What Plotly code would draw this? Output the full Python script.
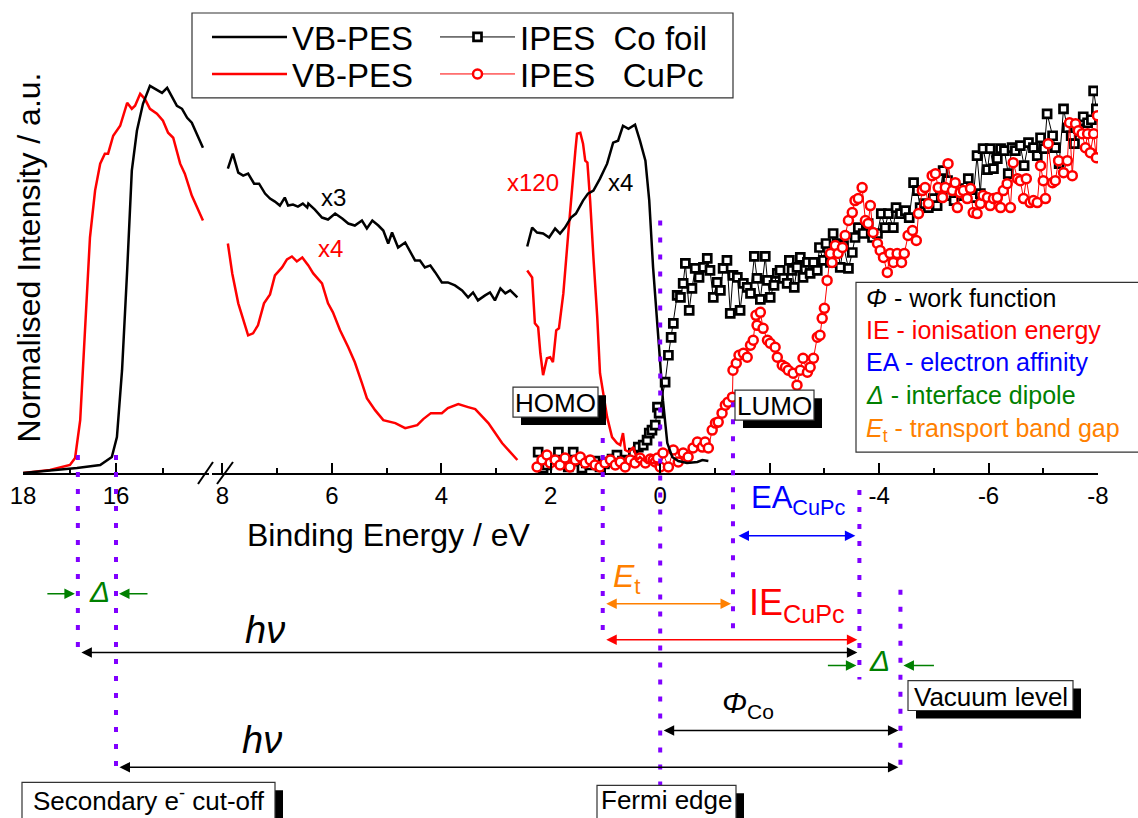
import plotly.graph_objects as go

# ---------------- data (binding energy in eV, intensity in a.u.) ----------------
vb_co_left_E = [18.0, 16.84, 16.34, 16.09, 15.98, 15.87, 15.76, 15.66, 15.55, 15.42, 15.27,
                15.01, 14.90, 14.69, 14.58, 14.47, 14.37, 14.13]
vb_co_left_I = [0.0, 0.05, 0.08, 0.16, 0.36, 1.03, 2.03, 3.03, 3.43, 3.70, 3.88,
                3.81, 3.86, 3.68, 3.65, 3.56, 3.51, 3.26]

vb_cupc_left_E = [18.0, 17.42, 16.99, 16.88, 16.77, 16.67, 16.56, 16.45, 16.34, 16.24, 16.17,
                  16.06, 15.91, 15.76, 15.66, 15.59, 15.48, 15.38, 15.27, 15.12, 14.99, 14.88,
                  14.77, 14.62, 14.52, 14.37, 14.13]
vb_cupc_left_I = [0.0, 0.03, 0.08, 0.15, 0.53, 1.36, 2.36, 2.83, 3.10, 3.20, 3.20,
                  3.38, 3.48, 3.71, 3.65, 3.68, 3.80, 3.75, 3.65, 3.60, 3.53, 3.41,
                  3.36, 3.10, 3.00, 2.78, 2.53]

vb_co_x3_E = [7.90, 7.81, 7.71, 7.62, 7.53, 7.42, 7.33, 7.22, 7.13, 7.04, 6.95, 6.86, 6.80,
              6.71, 6.62, 6.53, 6.45, 6.43, 6.31, 6.18, 6.07, 5.94, 5.81, 5.70, 5.58, 5.45,
              5.36, 5.26, 5.15, 5.06, 4.97, 4.90, 4.79, 4.66, 4.48, 4.39, 4.30, 4.20, 4.11,
              3.99, 3.88, 3.75, 3.62, 3.51, 3.42, 3.33, 3.20, 3.11, 3.02, 2.92, 2.83, 2.74, 2.61]
vb_co_x3_I = [3.05, 3.20, 3.01, 2.98, 3.00, 2.90, 2.90, 2.80, 2.75, 2.72, 2.68, 2.76, 2.68,
              2.69, 2.67, 2.70, 2.66, 2.70, 2.64, 2.56, 2.54, 2.60, 2.55, 2.50, 2.48, 2.53,
              2.45, 2.53, 2.48, 2.43, 2.30, 2.41, 2.26, 2.31, 2.13, 2.13, 2.06, 2.08, 2.01,
              1.91, 1.91, 1.88, 1.83, 1.76, 1.81, 1.73, 1.78, 1.81, 1.73, 1.85, 1.80, 1.83, 1.76]

vb_cupc_x4_E = [7.90, 7.82, 7.71, 7.62, 7.53, 7.44, 7.35, 7.24, 7.13, 7.04, 6.91, 6.82, 6.73,
                6.64, 6.54, 6.43, 6.34, 6.18, 6.07, 5.98, 5.85, 5.70, 5.58, 5.45, 5.36, 5.21,
                5.06, 4.84, 4.66, 4.44, 4.33, 4.19, 3.99, 3.88, 3.69, 3.51, 3.38, 3.14, 2.89, 2.61]
vb_cupc_x4_I = [2.30, 2.00, 1.70, 1.53, 1.38, 1.40, 1.48, 1.70, 1.79, 1.98, 2.06, 2.14, 2.17,
                2.12, 2.16, 2.08, 2.00, 1.90, 1.70, 1.61, 1.43, 1.26, 1.11, 0.90, 0.75, 0.63,
                0.53, 0.50, 0.45, 0.48, 0.54, 0.60, 0.60, 0.65, 0.69, 0.66, 0.64, 0.50, 0.30, 0.13]

vb_co_x4_E = [2.43, 2.34, 2.25, 2.14, 2.03, 1.92, 1.83, 1.74, 1.63, 1.54, 1.41, 1.32, 1.22,
              1.10, 0.97, 0.86, 0.77, 0.68, 0.58, 0.46, 0.37, 0.27, 0.20, 0.13, 0.04, -0.05,
              -0.13, -0.22, -0.33, -0.49, -0.68, -0.77, -0.88]
vb_co_x4_I = [2.27, 2.46, 2.41, 2.40, 2.36, 2.45, 2.40, 2.46, 2.56, 2.60, 2.73, 2.80, 2.83,
              2.95, 3.10, 3.31, 3.33, 3.48, 3.45, 3.49, 3.33, 3.13, 2.73, 2.06, 1.40, 0.73,
              0.30, 0.16, 0.12, 0.10, 0.11, 0.13, 0.12]

vb_cupc_x120_E = [2.43, 2.34, 2.29, 2.23, 2.19, 2.14, 2.07, 2.01, 1.96, 1.90, 1.85, 1.77, 1.68,
                  1.61, 1.55, 1.52, 1.46, 1.41, 1.37, 1.33, 1.28, 1.22, 1.15, 1.10, 1.04, 0.97,
                  0.88, 0.79, 0.73, 0.68, 0.64, 0.57, 0.49, 0.42, 0.37, 0.24, 0.13, 0.00]
vb_cupc_x120_I = [2.03, 1.96, 1.50, 1.46, 1.20, 0.98, 1.15, 1.16, 1.11, 1.43, 1.45, 1.80, 2.40,
                  2.90, 3.23, 3.40, 3.41, 3.30, 3.13, 3.11, 2.73, 2.16, 1.56, 1.00, 0.80, 0.56,
                  0.36, 0.30, 0.28, 0.40, 0.23, 0.21, 0.26, 0.13, 0.16, 0.10, 0.10, 0.08]

ipes_co_E = [2.23, 2.14, 2.07, 1.97, 1.86, 1.77, 1.68, 1.59, 1.50, 1.43, 1.35, 1.28, 1.19, 1.10,
             1.02, 0.95, 0.88, 0.79, 0.69, 0.60, 0.49, 0.40, 0.31, 0.24, 0.20, 0.15, 0.09, 0.05,
             0.02, -0.09, -0.15, -0.20, -0.24, -0.31, -0.37, -0.42, -0.46, -0.53, -0.58, -0.64,
             -0.71, -0.79, -0.86, -0.91, -0.97, -1.04, -1.10, -1.15, -1.22, -1.28, -1.33, -1.41,
             -1.46, -1.52, -1.59, -1.65, -1.72, -1.77, -1.83, -1.92, -1.96, -2.01, -2.08, -2.14,
             -2.19, -2.25, -2.32, -2.36, -2.41, -2.45, -2.50, -2.56, -2.61, -2.69, -2.74, -2.80,
             -2.87, -2.91, -2.98, -3.03, -3.11, -3.16, -3.24, -3.29, -3.35, -3.44, -3.51, -3.56,
             -3.62, -3.71, -3.80, -3.88, -3.97, -4.04, -4.11, -4.17, -4.26, -4.31, -4.39, -4.48,
             -4.55, -4.63, -4.70, -4.75, -4.83, -4.90, -4.99, -5.06, -5.12, -5.17, -5.25, -5.30,
             -5.37, -5.45, -5.54, -5.63, -5.72, -5.79, -5.85, -5.90, -5.98, -6.03, -6.09, -6.16,
             -6.22, -6.29, -6.36, -6.43, -6.49, -6.58, -6.65, -6.73, -6.82, -6.89, -6.95, -7.02,
             -7.07, -7.17, -7.22, -7.29, -7.37, -7.44, -7.51, -7.57, -7.64, -7.73, -7.81, -7.88,
             -7.92, -7.97]
ipes_co_I = [0.21, 0.05, 0.08, 0.12, 0.21, 0.10, 0.06, 0.21, 0.12, 0.05, 0.10, 0.08, 0.12, 0.06,
             0.09, 0.11, 0.14, 0.18, 0.12, 0.13, 0.20, 0.26, 0.28, 0.33, 0.40, 0.43, 0.48, 0.66,
             0.60, 0.91, 1.18, 1.36, 1.50, 1.78, 1.76, 1.90, 2.10, 1.63, 1.85, 2.05,
             1.96, 2.06, 2.15, 2.03, 1.76, 1.91, 1.83, 2.05, 2.13, 1.60, 1.98, 1.96,
             1.63, 1.90, 1.86, 1.80, 2.17, 1.95, 1.74, 2.17, 1.93, 1.76, 1.88, 2.00,
             2.03, 1.95, 1.90, 2.13, 2.03, 1.86, 2.06, 2.16, 1.96, 2.11, 2.00, 2.11,
             2.03, 2.26, 2.13, 2.30, 2.11, 2.40, 2.30, 2.06, 2.28, 2.05, 2.21, 2.36,
             2.46, 2.40, 2.50, 2.36, 2.40, 2.60, 2.46, 2.60, 2.46, 2.66, 2.60, 2.63,
             2.56, 2.91, 2.83, 2.66, 2.70, 2.66, 2.75, 2.68, 2.83, 3.03, 2.93, 2.78,
             2.73, 2.85, 2.78, 2.95, 2.76, 3.18, 2.80, 3.25, 3.04, 3.25, 3.05, 3.15,
             3.25, 3.23, 3.00, 3.26, 3.23, 3.28, 3.08, 3.31, 3.26, 3.18, 3.36, 3.25,
             3.60, 3.38, 3.26, 3.10, 3.65, 3.46, 3.38, 3.30, 3.45, 3.57, 3.51, 3.54,
             3.83, 3.65]

ipes_cupc_E = [2.25, 2.16, 2.07, 2.01, 1.92, 1.83, 1.74, 1.65, 1.55, 1.46, 1.37, 1.28, 1.19, 1.10,
               1.01, 0.91, 0.82, 0.73, 0.64, 0.55, 0.46, 0.37, 0.27, 0.18, 0.13, 0.09, 0.05, 0.00,
               -0.05, -0.15, -0.24, -0.33, -0.42, -0.51, -0.60, -0.68, -0.77, -0.82, -0.88, -0.95,
               -1.01, -1.06, -1.13, -1.19, -1.24, -1.32, -1.33, -1.39, -1.44, -1.52, -1.59, -1.65,
               -1.70, -1.75, -1.77, -1.83, -1.88, -1.96, -2.01, -2.10, -2.14, -2.23, -2.29, -2.34,
               -2.43, -2.50, -2.56, -2.61, -2.69, -2.74, -2.80, -2.87, -2.92, -2.96, -3.00, -3.05,
               -3.11, -3.14, -3.20, -3.25, -3.33, -3.38, -3.44, -3.51, -3.56, -3.62, -3.69, -3.75,
               -3.80, -3.84, -3.89, -3.97, -4.02, -4.08, -4.15, -4.20, -4.26, -4.33, -4.41, -4.46,
               -4.53, -4.61, -4.68, -4.72, -4.79, -4.84, -4.90, -4.97, -5.03, -5.08, -5.16, -5.21,
               -5.26, -5.34, -5.39, -5.43, -5.48, -5.54, -5.61, -5.67, -5.72, -5.79, -5.85, -5.90,
               -5.98, -6.03, -6.09, -6.16, -6.22, -6.27, -6.34, -6.40, -6.45, -6.53, -6.58, -6.64,
               -6.69, -6.76, -6.82, -6.89, -6.95, -7.00, -7.04, -7.09, -7.17, -7.22, -7.28, -7.37,
               -7.44, -7.48, -7.53, -7.59, -7.64, -7.71, -7.77, -7.81, -7.86, -7.92, -7.97, -7.99]
ipes_cupc_I = [0.06, 0.13, 0.18, 0.10, 0.13, 0.08, 0.15, 0.06, 0.13, 0.16, 0.10, 0.13, 0.08, 0.06,
               0.10, 0.13, 0.08, 0.11, 0.06, 0.13, 0.10, 0.15, 0.10, 0.14, 0.13, 0.11, 0.15, 0.06,
               0.20, 0.06, 0.23, 0.11, 0.20, 0.16, 0.25, 0.31, 0.26, 0.31, 0.25, 0.43,
               0.50, 0.51, 0.60, 0.68, 0.71, 0.76, 1.03, 1.10, 1.18, 1.20, 1.16, 1.28,
               1.33, 1.58, 1.48, 1.61, 1.45, 1.33, 1.30, 1.26, 1.16, 1.08, 1.06, 1.03,
               1.00, 0.88, 1.03, 1.15, 1.01, 1.06, 1.15, 1.36, 1.38, 1.55, 1.65, 1.93,
               2.20, 2.11, 2.28, 2.20, 2.26, 2.38, 2.53, 2.61, 2.73, 2.75, 2.86, 2.53,
               2.50, 2.68, 2.41, 2.30, 2.23, 2.16, 2.01, 2.20, 2.11, 2.20, 2.11, 2.20,
               2.38, 2.43, 2.33, 2.60, 2.83, 2.86, 2.70, 2.98, 3.00, 2.86, 2.76, 2.86,
               3.10, 2.83, 2.91, 2.66, 2.81, 2.83, 2.75, 2.85, 2.61, 2.60, 2.70, 2.78,
               2.76, 2.68, 2.75, 2.76, 2.66, 2.83, 2.90, 2.66, 3.11, 2.95, 2.93, 2.75,
               2.95, 2.71, 2.73, 2.71, 3.08, 2.93, 2.75, 3.30, 2.91, 2.93, 3.13, 3.01,
               3.13, 3.51, 2.98, 3.50, 3.43, 3.40, 3.26, 3.40, 3.21, 3.40, 3.16, 3.58]

# characteristic energies (eV)
cutoff_cupc = 16.82   # secondary electron cut-off, CuPc
cutoff_co = 16.0      # secondary electron cut-off, Co foil
homo = 1.05
fermi = 0.0
lumo = -1.33
vac_cupc = -3.64
vac_co = -4.39

left_ticks = [18, 16]
left_minor = [17, 15]
right_ticks = [8, 6, 4, 2, 0, -2, -4, -6, -8]
right_ticklabels = ["8", "6", "4", "2", "0", "", "-4", "-6", "-8"]
right_minor = [7, 5, 3, 1, -1, -3, -5, -7]

# ---------------- geometry ----------------
FW, FH = 1138, 818
ML, MR, MT, MB = 23, 40, 10, 345
PW = FW - ML - MR
PH = FH - MT - MB
D1 = [0.0, 186 / PW]
D2 = [189 / PW, 1.0]
R1 = [18.0, 14.0]
R2 = [8.19, -8.0]
YR = [0, PH / 100.0]

FONT = "Arial, 'Liberation Sans', sans-serif"
PURPLE = "#8000FF"
GREEN = "#008000"
ORANGE = "#FF8000"
BLUE = "#0000FF"
RED = "#FF0000"


def PX(px):
    return (px - ML) / PW


def PY(py):
    return (MT + PH - py) / PH


def epx(E, axis):
    d, r = (D1, R1) if axis == 1 else (D2, R2)
    return ML + PW * (d[0] + (E - r[0]) / (r[1] - r[0]) * (d[1] - d[0]))


fig = go.Figure()

co_marker = dict(symbol="square", size=8, color="white", line=dict(color="black", width=2.7))
cupc_marker = dict(symbol="circle", size=9, color="white", line=dict(color=RED, width=2.5))

# IPES
fig.add_trace(go.Scatter(x=ipes_co_E, y=ipes_co_I, xaxis="x2", yaxis="y", mode="lines+markers",
                         name="IPES\u00a0 Co foil", legend="legend2",
                         line=dict(color="black", width=1), marker=co_marker))
fig.add_trace(go.Scatter(x=ipes_cupc_E, y=ipes_cupc_I, xaxis="x2", yaxis="y", mode="lines+markers",
                         name="IPES\u00a0\u00a0 CuPc", legend="legend4",
                         line=dict(color=RED, width=1), marker=cupc_marker))

# VB-PES CuPc (red)
for i, (xs, ys, ax) in enumerate([(vb_cupc_left_E, vb_cupc_left_I, "x"),
                                   (vb_cupc_x4_E, vb_cupc_x4_I, "x2"),
                                   (vb_cupc_x120_E, vb_cupc_x120_I, "x2")]):
    fig.add_trace(go.Scatter(x=xs, y=ys, xaxis=ax, yaxis="y", mode="lines", name="VB-PES",
                             legend="legend3", legendgroup="vbcupc",
                             showlegend=(i == 0), line=dict(color=RED, width=2.5)))
# VB-PES Co (black)
for i, (xs, ys, ax) in enumerate([(vb_co_left_E, vb_co_left_I, "x"),
                                   (vb_co_x3_E, vb_co_x3_I, "x2"),
                                   (vb_co_x4_E, vb_co_x4_I, "x2")]):
    fig.add_trace(go.Scatter(x=xs, y=ys, xaxis=ax, yaxis="y", mode="lines", name="VB-PES",
                             legend="legend", legendgroup="vbco",
                             showlegend=(i == 0), line=dict(color="black", width=2.5)))

axis_common = dict(showgrid=False, zeroline=False, showline=True, linecolor="black", linewidth=2,
                   ticks="inside", ticklen=10, tickwidth=2, tickcolor="black",
                   tickfont=dict(family=FONT, size=24, color="black"), anchor="y",
                   tickmode="array", ticklabelstandoff=0)

shapes = []
annotations = []

# vertical dotted guide lines (energy positions)
DOT = "5px,12px"
for E, ax, ytop, ybot in [(cutoff_cupc, "x", 455, 652), (cutoff_co, "x", 455, 768),
                          (homo, "x2", 438, 642), (fermi, "x2", 220, 790),
                          (lumo, "x2", 402, 638), (vac_cupc, "x2", 490, 680),
                          (vac_co, "x2", 590, 770)]:
    shapes.append(dict(type="line", xref=ax, yref="paper", x0=E, x1=E, y0=PY(ytop), y1=PY(ybot),
                       line=dict(color=PURPLE, width=4, dash=DOT), layer="above"))

# axis break marks
for x0, x1 in [(198, 213), (217, 233)]:
    shapes.append(dict(type="line", xref="paper", yref="paper", x0=PX(x0), x1=PX(x1),
                       y0=PY(484), y1=PY(462), line=dict(color="black", width=2), layer="above"))

# legend frame
shapes.append(dict(type="rect", xref="paper", yref="paper", x0=PX(192), x1=PX(733),
                   y0=PY(12), y1=PY(97), line=dict(color="#333333", width=1.2), layer="above"))

# info box frame
shapes.append(dict(type="rect", xref="paper", yref="paper", x0=PX(856), x1=PX(1160),
                   y0=PY(282), y1=PY(452), line=dict(color="#333333", width=1.2),
                   fillcolor="white", layer="above"))


def boxed(text, x0, y0, x1, y1, shadow=8, size=26, ty=None):
    shapes.append(dict(type="rect", xref="paper", yref="paper", x0=PX(x0 + shadow),
                       x1=PX(x1 + shadow), y0=PY(y0 + shadow), y1=PY(y1 + shadow),
                       line=dict(width=0), fillcolor="black", layer="above"))
    shapes.append(dict(type="rect", xref="paper", yref="paper", x0=PX(x0), x1=PX(x1),
                       y0=PY(y0), y1=PY(y1), line=dict(color="#333333", width=1.2),
                       fillcolor="white", layer="above"))
    cy = (y0 + y1) / 2 + 1 if ty is None else ty
    annotations.append(dict(text=text, xref="paper", yref="paper", x=PX((x0 + x1) / 2),
                            y=PY(cy), xanchor="center", yanchor="middle",
                            showarrow=False, font=dict(family=FONT, size=size, color="black")))


def label(text, px, py, size, color, xanchor="center", yanchor="middle"):
    annotations.append(dict(text=text, xref="paper", yref="paper", x=PX(px), y=PY(py),
                            xanchor=xanchor, yanchor=yanchor, showarrow=False,
                            font=dict(family=FONT, size=size, color=color)))


def arrow(E_head, ax_head, E_tail, ax_tail, py, color, side="end+start", width=1.5, standoff=2):
    xh = epx(E_head, ax_head)
    xt = epx(E_tail, ax_tail)
    annotations.append(dict(text="", xref="paper", yref="paper", x=PX(xh), y=PY(py),
                            axref="pixel", ayref="pixel", ax=xt - xh, ay=0, showarrow=True,
                            arrowhead=2, startarrowhead=2, arrowside=side, arrowsize=1.4,
                            startarrowsize=1.4, arrowwidth=width, arrowcolor=color,
                            standoff=standoff, startstandoff=standoff))


def short_arrow(E_head, ax_head, dx, py, color):
    xh = epx(E_head, ax_head)
    annotations.append(dict(text="", xref="paper", yref="paper", x=PX(xh), y=PY(py),
                            axref="pixel", ayref="pixel", ax=dx, ay=0, showarrow=True,
                            arrowhead=2, arrowsize=1.4, arrowwidth=1.5, arrowcolor=color,
                            standoff=3))


boxed("HOMO", 513, 387, 598, 417)
boxed("LUMO", 735, 390, 814, 420)
boxed("Vacuum level", 908, 681, 1073, 711)
boxed("Secondary e<sup>-</sup> cut-off", 22, 783, 275, 822, ty=800)
boxed("Fermi edge", 597, 786, 736, 821, ty=801)

# energy arrows
arrow(vac_cupc, 2, cutoff_cupc, 1, 653, "black")
arrow(vac_co, 2, cutoff_co, 1, 768, "black")
arrow(vac_cupc, 2, lumo, 2, 536, BLUE, standoff=4)
arrow(lumo, 2, homo, 2, 604, ORANGE)
arrow(vac_cupc, 2, homo, 2, 640, RED)
arrow(vac_co, 2, fermi, 2, 731, "black")
short_arrow(cutoff_cupc, 1, -32, 594, GREEN)
short_arrow(cutoff_co, 1, 33, 594, GREEN)
short_arrow(vac_cupc, 2, -33, 666, GREEN)
short_arrow(vac_co, 2, 35, 666, GREEN)

# arrow labels
label("<i>Δ</i>", 99, 592, 30, GREEN)
label("<i>Δ</i>", 879, 661, 30, GREEN)
label("<i>hν</i>", 265, 630, 38, "black")
label("<i>hν</i>", 262, 741, 38, "black")
label("EA<sub>CuPc</sub>", 749, 500, 31, BLUE, xanchor="left")
label("<i>E</i><sub>t</sub>", 611, 579, 32, ORANGE, xanchor="left")
label("IE<sub>CuPc</sub>", 747, 605, 36, RED, xanchor="left")
label("<i>Φ</i><sub>Co</sub>", 720, 705, 30, "black", xanchor="left")

# curve multipliers
label("x3", 333, 197, 24, "black")
label("x4", 330, 248, 24, RED)
label("x120", 533, 182, 24, RED)
label("x4", 620, 182, 24, "black")

# info box text
info = [("<i>Φ</i> - work function", "black", 298),
        ("IE - ionisation energy", RED, 330),
        ("EA - electron affinity", BLUE, 362),
        ("<i>Δ</i> - interface dipole", GREEN, 395),
        ("<i>E</i><sub>t</sub> - transport band gap", ORANGE, 430)]
for t, c, py in info:
    label(t, 864, py, 25, c, xanchor="left")

# axis titles
annotations.append(dict(text="Normalised Intensity / a.u.", xref="paper", yref="paper",
                        x=PX(29), y=PY(257), xanchor="center", yanchor="middle", textangle=-90,
                        showarrow=False, font=dict(family=FONT, size=32, color="black")))
label("Binding Energy / eV", 389, 535, 32, "black")


def legend_box(px, py):
    return dict(x=PX(px), y=PY(py), xanchor="left", yanchor="middle", orientation="v",
                bgcolor="rgba(0,0,0,0)", borderwidth=0, itemwidth=75, tracegroupgap=0,
                font=dict(family=FONT, size=33, color="black"))


fig.update_layout(
    width=FW, height=FH,
    margin=dict(l=ML, r=MR, t=MT, b=MB, pad=0),
    paper_bgcolor="white", plot_bgcolor="white",
    font=dict(family=FONT, color="black"),
    xaxis=dict(domain=D1, range=R1, tickvals=left_ticks, ticktext=[str(v) for v in left_ticks],
               minor=dict(tickmode="array", tickvals=left_minor, ticks="inside", ticklen=5,
                          tickwidth=2, tickcolor="black"), **axis_common),
    xaxis2=dict(domain=D2, range=R2, tickvals=right_ticks, ticktext=right_ticklabels,
                minor=dict(tickmode="array", tickvals=right_minor, ticks="inside", ticklen=5,
                           tickwidth=2, tickcolor="black"), **axis_common),
    yaxis=dict(range=YR, visible=False, showgrid=False, zeroline=False),
    showlegend=True,
    legend=legend_box(207, 37),
    legend2=legend_box(435, 37),
    legend3=legend_box(207, 74),
    legend4=legend_box(435, 74),
    shapes=shapes,
    annotations=annotations,
)

fig.write_html("out.html", config={"displayModeBar": False},
               post_script="document.body.style.margin='0px';")
